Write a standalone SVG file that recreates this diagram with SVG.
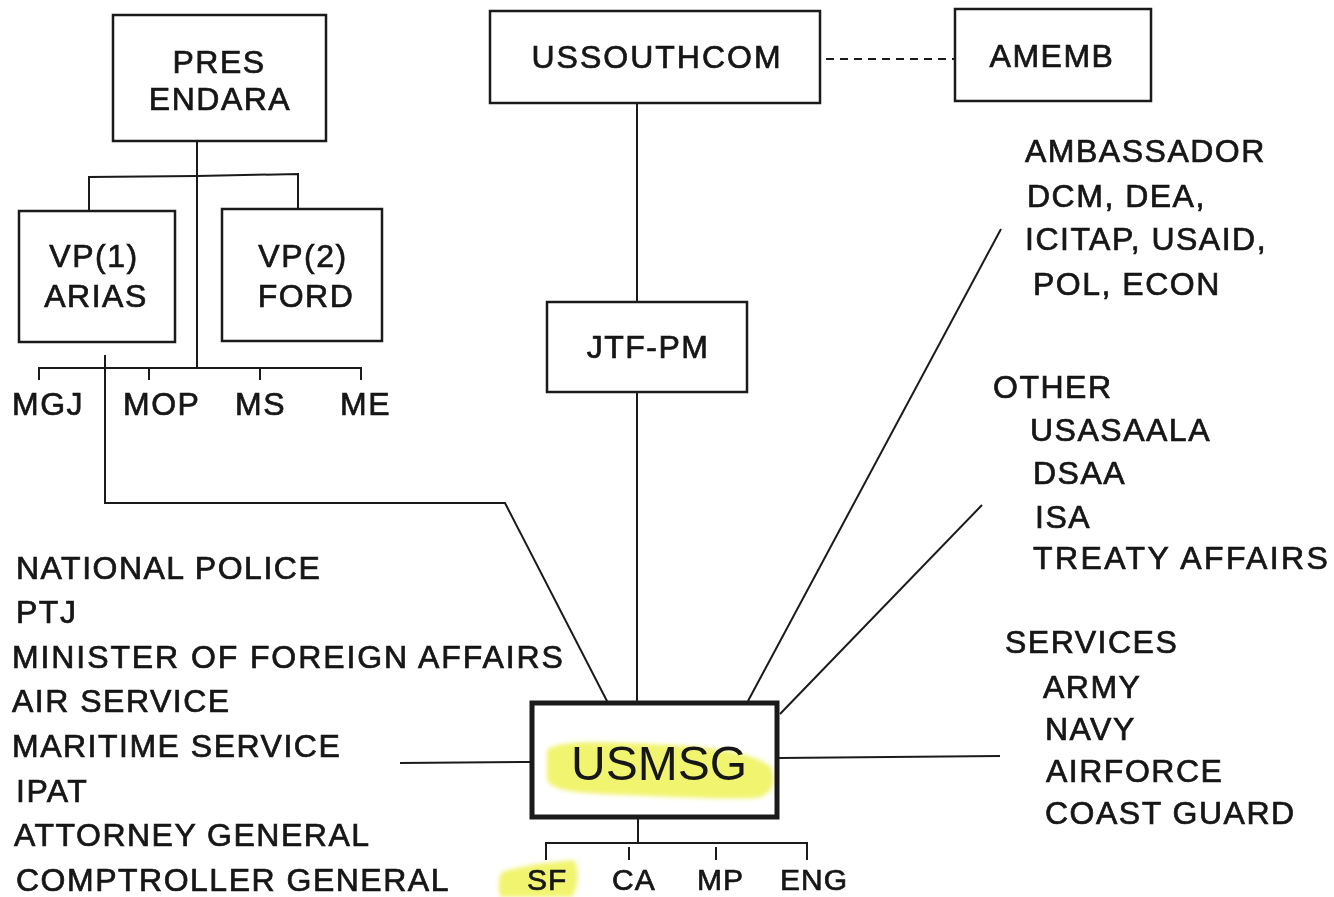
<svg xmlns="http://www.w3.org/2000/svg" width="1334" height="897" viewBox="0 0 1334 897">
<defs>
<filter id="soft" x="-10%" y="-30%" width="120%" height="160%"><feGaussianBlur stdDeviation="2"/></filter>
</defs>
<style>
.bg{fill:#ffffff}
.box{fill:none;stroke:#1a1a1a;stroke-width:2.5}
.bold{fill:none;stroke:#1a1a1a;stroke-width:5}
.ln{fill:none;stroke:#1a1a1a;stroke-width:2}
.dash{fill:none;stroke:#1a1a1a;stroke-width:2;stroke-dasharray:8 6}
.t{font-family:"Liberation Sans",Arial,sans-serif;font-size:32px;fill:#161616;stroke:#161616;stroke-width:0.7;letter-spacing:1.5px}
.c{text-anchor:middle}
.s{font-size:30px;letter-spacing:1px}
.big{font-family:"Liberation Sans",Arial,sans-serif;font-size:48px;fill:#161616;text-anchor:middle}
.hl{fill:#eef255;opacity:0.85}
</style>
<rect class="bg" x="0" y="0" width="1334" height="897"/>

<g id="highlights" filter="url(#soft)">
<path class="hl" d="M547,750 C560,740 600,742 650,744 C700,746 748,750 770,766 C778,780 772,796 756,798 C720,800 660,796 600,794 C572,792 552,790 547,780 Z"/>
<path class="hl" d="M502,872 C520,866 550,862 574,860 C580,870 578,888 572,897 L500,897 C498,888 498,878 502,872 Z"/>
</g>

<g id="connectors">
<polyline class="ln" points="197,141 197,368"/>
<polyline class="ln" points="89,211 89,177 197,176 298,174 298,209"/>
<polyline class="ln" points="39,380 39,368 361,368 361,380"/>
<line class="ln" x1="149" y1="368" x2="149" y2="380"/>
<line class="ln" x1="260" y1="368" x2="260" y2="380"/>
<polyline class="ln" points="105,355 105,503 505,503 608,703"/>
<line class="ln" x1="637" y1="103" x2="637" y2="302"/>
<line class="ln" x1="637" y1="392" x2="637" y2="703"/>
<line class="dash" x1="826" y1="59" x2="955" y2="59"/>
<line class="ln" x1="1001" y1="229" x2="748" y2="701"/>
<line class="ln" x1="982" y1="505" x2="780" y2="714"/>
<line class="ln" x1="779" y1="758" x2="1000" y2="756"/>
<line class="ln" x1="400" y1="763" x2="531" y2="762"/>
<line class="ln" x1="638" y1="819" x2="638" y2="843"/>
<polyline class="ln" points="546,860 546,843 807,843 807,860"/>
<line class="ln" x1="629" y1="847" x2="629" y2="860"/>
<line class="ln" x1="716" y1="847" x2="716" y2="860"/>
</g>

<g id="pres-endara">
<rect class="box" x="113" y="15" width="213" height="126"/>
<text class="t c" x="219" y="73">PRES</text>
<text class="t c" x="220" y="110">ENDARA</text>
</g>

<g id="vp1-arias">
<rect class="box" x="19" y="211" width="156" height="131"/>
<text class="t c" x="94" y="267">VP(1)</text>
<text class="t c" x="96" y="307">ARIAS</text>
</g>

<g id="vp2-ford">
<rect class="box" x="222" y="209" width="160" height="132"/>
<text class="t c" x="303" y="267">VP(2)</text>
<text class="t c" x="306" y="307">FORD</text>
</g>

<g id="ministries">
<text class="t" x="12" y="415">MGJ</text>
<text class="t" x="123" y="415">MOP</text>
<text class="t" x="235" y="415">MS</text>
<text class="t" x="340" y="415">ME</text>
</g>

<g id="ussouthcom">
<rect class="box" x="490" y="11" width="330" height="92"/>
<text class="t c" x="657" y="68" style="letter-spacing:2px">USSOUTHCOM</text>
</g>

<g id="amemb">
<rect class="box" x="955" y="9" width="196" height="92"/>
<text class="t c" x="1052" y="67">AMEMB</text>
</g>

<g id="jtf-pm">
<rect class="box" x="547" y="302" width="200" height="90"/>
<text class="t c" x="648" y="358">JTF-PM</text>
</g>

<g id="usmsg">
<rect class="bold" x="532" y="703" width="245" height="114"/>
<text class="big" x="659" y="780">USMSG</text>
</g>

<g id="usmsg-units">
<text class="t s" x="527" y="890">SF</text>
<text class="t s" x="612" y="890">CA</text>
<text class="t s" x="697" y="890">MP</text>
<text class="t s" x="780" y="890">ENG</text>
</g>

<g id="panama-list">
<text class="t" x="16" y="579">NATIONAL POLICE</text>
<text class="t" x="16" y="623">PTJ</text>
<text class="t" x="12" y="668" style="letter-spacing:1.9px">MINISTER OF FOREIGN AFFAIRS</text>
<text class="t" x="12" y="712">AIR SERVICE</text>
<text class="t" x="12" y="757">MARITIME SERVICE</text>
<text class="t" x="16" y="802">IPAT</text>
<text class="t" x="14" y="846">ATTORNEY GENERAL</text>
<text class="t" x="16" y="891">COMPTROLLER GENERAL</text>
</g>

<g id="embassy-list">
<text class="t" x="1025" y="162">AMBASSADOR</text>
<text class="t" x="1027" y="207">DCM, DEA,</text>
<text class="t" x="1025" y="250">ICITAP, USAID,</text>
<text class="t" x="1033" y="295">POL, ECON</text>
</g>

<g id="other-list">
<text class="t" x="993" y="398">OTHER</text>
<text class="t" x="1030" y="441">USASAALA</text>
<text class="t" x="1033" y="484">DSAA</text>
<text class="t" x="1035" y="528">ISA</text>
<text class="t" x="1033" y="569" style="letter-spacing:2.4px">TREATY AFFAIRS</text>
</g>

<g id="services-list">
<text class="t" x="1005" y="653">SERVICES</text>
<text class="t" x="1043" y="698">ARMY</text>
<text class="t" x="1045" y="740">NAVY</text>
<text class="t" x="1046" y="782">AIRFORCE</text>
<text class="t" x="1045" y="824">COAST GUARD</text>
</g>
</svg>
